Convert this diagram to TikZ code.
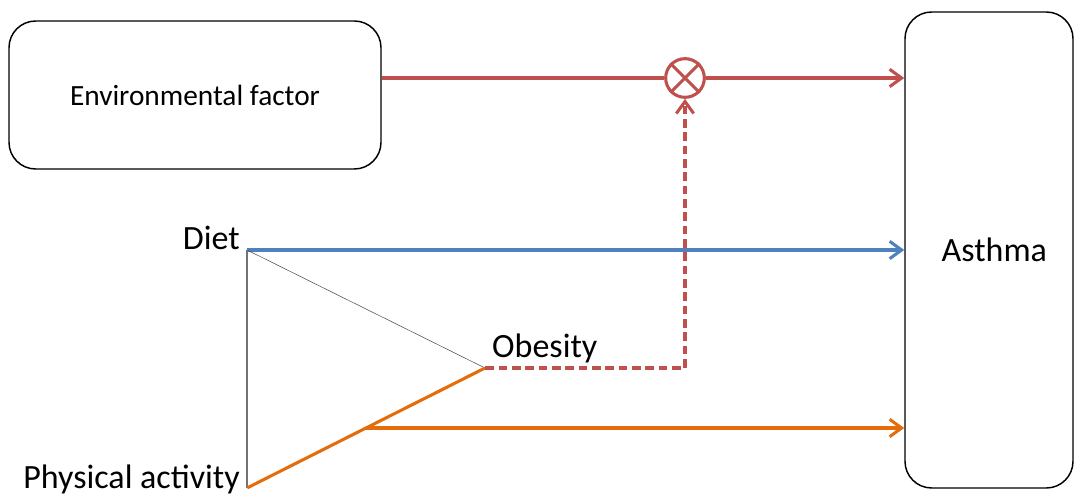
\documentclass[tikz,border=0pt]{standalone}
\usepackage{fontspec}
\setmainfont{Carlito}
\usetikzlibrary{arrows.meta,calc}
\definecolor{envred}{HTML}{C0504D}
\definecolor{dietblue}{HTML}{4F81BD}
\definecolor{paorange}{HTML}{E46C0A}
\begin{document}
\begin{tikzpicture}[x=0.75pt, y=-0.75pt, font=\fontsize{25.5}{30}\selectfont,
    every label/.style={inner sep=5pt},
    pt/.style={inner sep=0pt, minimum size=0pt},
    box/.style={draw, line width=1.1pt, rounded corners=20pt},
    wire/.style={line width=2.3pt},
    arr/.style={wire, -{Straight Barb[length=9pt,width=13pt]}}]
    \useasboundingbox (0,0) rectangle (1074,495);

    \node[box, minimum width=279pt, minimum height=111pt, font=\fontsize{22}{26}\selectfont] (env) at (195,95) {Environmental factor};
    \node[box, minimum width=126pt, minimum height=357pt] (asthma) at (989,250) {\hspace*{8pt}Asthma};
    \node[circle, draw=envred, wire, minimum size=29pt, inner sep=0pt] (mult) at (685,78) {};

    \node[pt, label={[anchor=base east]left:Diet}] (diet) at (247,250) {};
    \node[pt, label={[anchor=base east]left:Physical activity}] (pa) at (247,488) {};
    \node[pt, label={[anchor=base west, yshift=8pt]right:Obesity}] (obes) at (485,368) {};
    \coordinate (split) at ($(pa)!0.5!(obes)$);

    \draw[envred, wire] (mult.north west) -- (mult.south east) (mult.north east) -- (mult.south west);
    \draw[envred, wire] (env.east |- mult) -- (mult);
    \draw[envred, arr] (mult) -- (mult -| asthma.west);
    \draw[dietblue, arr] (diet) -- (diet -| asthma.west);
    \draw[black!70, thin] (diet) -- (obes);
    \draw[black!55, line width=1.1pt] (diet) -- (pa);
    \draw[paorange, wire] (pa) -- (obes);
    \draw[paorange, arr] (split) -- (split -| asthma.west);
    \draw[envred, arr, dash pattern=on 6.5pt off 3.5pt] (obes) -| (mult);
\end{tikzpicture}
\end{document}
